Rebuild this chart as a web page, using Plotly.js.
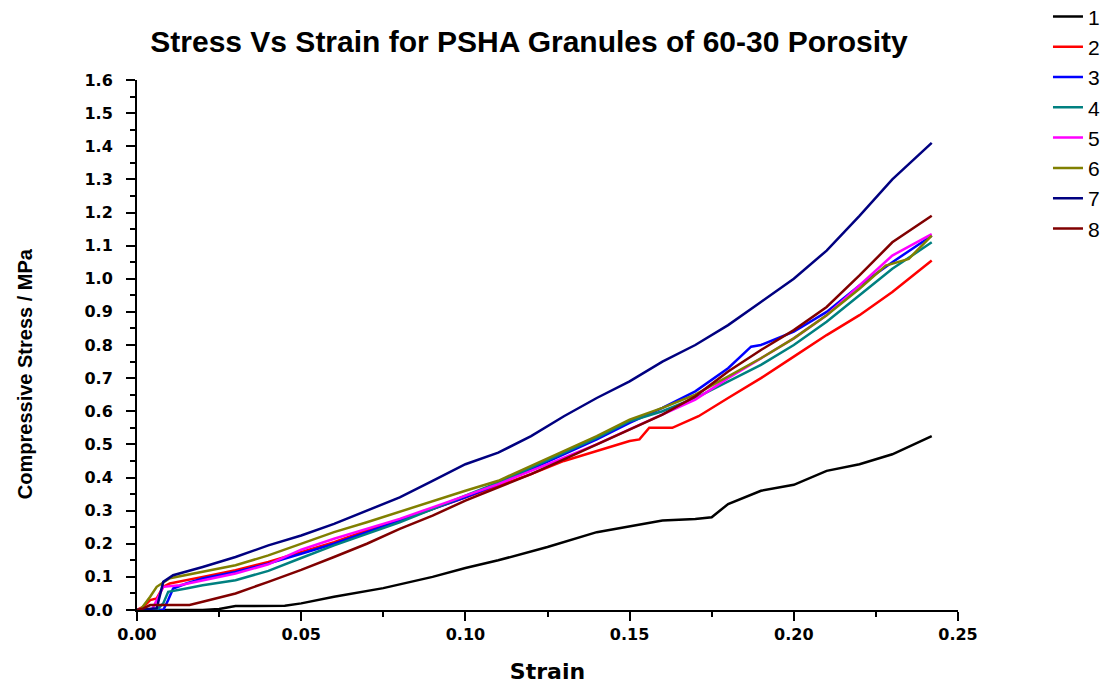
<!DOCTYPE html>
<html>
<head>
<meta charset="utf-8">
<script src="https://cdn.plot.ly/plotly-3.0.1.min.js"></script>
<style>html,body{margin:0;padding:0;background:#fff;}#chart{width:1118px;height:688px;}</style>
</head>
<body>
<div id="chart"></div>
<script>
// Series names
const seriesNames = ["1", "2", "3", "4", "5", "6", "7", "8"];
const seriesColors = ["#000000", "#FF0000", "#0000FF", "#008080", "#FF00FF", "#808000", "#000080", "#800000"];

// Strain / stress data
const s1x = [0, 0.02, 0.025, 0.03, 0.045, 0.05, 0.06, 0.075, 0.09, 0.10, 0.11, 0.125, 0.14, 0.15, 0.16, 0.17, 0.175, 0.18, 0.19, 0.20, 0.21, 0.22, 0.23, 0.242];
const s1y = [0, 0, 0.003, 0.012, 0.013, 0.02, 0.04, 0.066, 0.1, 0.127, 0.15, 0.19, 0.235, 0.252, 0.27, 0.275, 0.28, 0.32, 0.36, 0.378, 0.42, 0.44, 0.47, 0.525];

const s2x = [0, 0.002, 0.004, 0.006, 0.008, 0.01, 0.02, 0.03, 0.04, 0.05, 0.06, 0.07, 0.08, 0.09, 0.10, 0.11, 0.12, 0.13, 0.14, 0.15, 0.153, 0.156, 0.163, 0.171, 0.18, 0.19, 0.20, 0.21, 0.22, 0.23, 0.242];
const s2y = [0, 0.01, 0.03, 0.035, 0.07, 0.08, 0.1, 0.12, 0.145, 0.175, 0.205, 0.24, 0.27, 0.305, 0.34, 0.375, 0.41, 0.45, 0.48, 0.51, 0.515, 0.55, 0.55, 0.585, 0.64, 0.70, 0.765, 0.83, 0.89, 0.96, 1.055];

const s3x = [0, 0.008, 0.0095, 0.011, 0.015, 0.02, 0.03, 0.04, 0.05, 0.06, 0.07, 0.08, 0.09, 0.10, 0.11, 0.12, 0.13, 0.14, 0.15, 0.16, 0.17, 0.18, 0.187, 0.19, 0.20, 0.21, 0.22, 0.23, 0.242];
const s3y = [0, 0, 0.03, 0.065, 0.08, 0.095, 0.115, 0.14, 0.17, 0.2, 0.235, 0.27, 0.305, 0.34, 0.38, 0.425, 0.47, 0.515, 0.565, 0.61, 0.66, 0.73, 0.795, 0.80, 0.84, 0.9, 0.98, 1.05, 1.13];

const s4x = [0, 0.006, 0.008, 0.0095, 0.015, 0.02, 0.03, 0.04, 0.05, 0.06, 0.07, 0.08, 0.09, 0.10, 0.11, 0.12, 0.13, 0.14, 0.15, 0.16, 0.17, 0.18, 0.19, 0.20, 0.21, 0.22, 0.23, 0.242];
const s4y = [0, 0, 0.02, 0.055, 0.065, 0.075, 0.09, 0.118, 0.157, 0.195, 0.23, 0.265, 0.305, 0.345, 0.385, 0.43, 0.475, 0.52, 0.57, 0.60, 0.64, 0.69, 0.74, 0.80, 0.87, 0.95, 1.03, 1.11];

const s5x = [0, 0.0045, 0.007, 0.008, 0.013, 0.02, 0.03, 0.04, 0.05, 0.06, 0.07, 0.08, 0.09, 0.10, 0.11, 0.12, 0.13, 0.14, 0.15, 0.16, 0.17, 0.18, 0.19, 0.20, 0.21, 0.22, 0.23, 0.242];
const s5y = [0, 0, 0.05, 0.07, 0.075, 0.09, 0.11, 0.138, 0.182, 0.215, 0.245, 0.275, 0.31, 0.345, 0.38, 0.42, 0.46, 0.50, 0.545, 0.59, 0.635, 0.70, 0.76, 0.82, 0.89, 0.98, 1.07, 1.135];

const s6x = [0, 0.001, 0.004, 0.006, 0.01, 0.02, 0.03, 0.04, 0.05, 0.06, 0.07, 0.08, 0.09, 0.10, 0.11, 0.12, 0.13, 0.14, 0.15, 0.16, 0.17, 0.18, 0.19, 0.20, 0.21, 0.22, 0.228, 0.235, 0.242];
const s6y = [0, 0, 0.04, 0.07, 0.096, 0.115, 0.135, 0.165, 0.2, 0.235, 0.265, 0.297, 0.33, 0.36, 0.39, 0.435, 0.48, 0.525, 0.575, 0.61, 0.65, 0.705, 0.76, 0.82, 0.89, 0.97, 1.04, 1.06, 1.13];

const s7x = [0, 0.006, 0.008, 0.011, 0.02, 0.03, 0.04, 0.05, 0.06, 0.07, 0.08, 0.09, 0.10, 0.11, 0.12, 0.13, 0.14, 0.15, 0.16, 0.17, 0.18, 0.19, 0.20, 0.21, 0.22, 0.23, 0.242];
const s7y = [0, 0.005, 0.085, 0.105, 0.13, 0.16, 0.195, 0.225, 0.26, 0.30, 0.34, 0.39, 0.44, 0.475, 0.525, 0.585, 0.64, 0.69, 0.75, 0.80, 0.86, 0.93, 1.00, 1.085, 1.19, 1.30, 1.41];

const s8x = [0, 0.002, 0.004, 0.016, 0.02, 0.03, 0.04, 0.05, 0.06, 0.07, 0.08, 0.09, 0.10, 0.11, 0.12, 0.13, 0.14, 0.15, 0.16, 0.17, 0.18, 0.19, 0.20, 0.21, 0.22, 0.23, 0.242];
const s8y = [0, 0.005, 0.015, 0.015, 0.025, 0.05, 0.085, 0.121, 0.16, 0.2, 0.245, 0.285, 0.33, 0.37, 0.41, 0.455, 0.5, 0.545, 0.59, 0.645, 0.72, 0.785, 0.845, 0.915, 1.01, 1.11, 1.19];

const xs = [s1x, s2x, s3x, s4x, s5x, s6x, s7x, s8x];
const ys = [s1y, s2y, s3y, s4y, s5y, s6y, s7y, s8y];

const traces = seriesNames.map((n, i) => ({
  type: "scatter", mode: "lines", name: n,
  x: xs[i], y: ys[i],
  line: {color: seriesColors[i], width: 2.5}
}));

const SANS = "Liberation Sans, Arial, sans-serif";
const WIDE = "DejaVu Sans, Verdana, sans-serif";

const layout = {
  width: 1118, height: 688,
  margin: {l: 137, r: 160, t: 80, b: 78, autoexpand: false},
  paper_bgcolor: "#fff", plot_bgcolor: "#fff",
  font: {family: SANS, color: "#000"},
  title: {text: "<b>Stress Vs Strain for PSHA Granules of 60-30 Porosity</b>",
          font: {size: 30, family: SANS, color: "#000"},
          xref: "paper", x: 0.4775, xanchor: "center", y: 0.94, yanchor: "middle"},
  xaxis: {
    range: [0, 0.25], dtick: 0.05, tick0: 0, tickformat: ".2f",
    showgrid: false, zeroline: false,
    showline: true, linecolor: "#000", linewidth: 2,
    ticks: "outside", ticklen: 9, tickwidth: 2, tickcolor: "#000",
    minor: {dtick: 0.025, ticks: "outside", ticklen: 5, tickwidth: 2, tickcolor: "#000"},
    tickfont: {size: 16, family: WIDE, weight: "bold", color: "#000"},
    title: {text: "<b>Strain</b>", font: {size: 22, family: WIDE, color: "#000"}, standoff: 20}
  },
  yaxis: {
    range: [0, 1.6], dtick: 0.1, tick0: 0, tickformat: ".1f",
    showgrid: false, zeroline: false,
    showline: true, linecolor: "#000", linewidth: 2,
    ticks: "outside", ticklen: 9, tickwidth: 2, tickcolor: "#000",
    minor: {dtick: 0.05, ticks: "outside", ticklen: 5, tickwidth: 2, tickcolor: "#000"},
    tickfont: {size: 16, family: WIDE, weight: "bold", color: "#000"},
    ticklabelstandoff: 10
  },
  annotations: [{
    text: "<b>Compressive Stress / MPa</b>", textangle: -90,
    xref: "paper", yref: "paper", x: -0.1364, y: 0.445,
    xanchor: "center", yanchor: "middle", showarrow: false,
    font: {size: 20, family: SANS, color: "#000"}
  }],
  showlegend: true,
  legend: {
    x: 1.1096, xanchor: "left", y: 1.158, yanchor: "top",
    font: {size: 21, family: SANS, color: "#000"},
    bgcolor: "rgba(0,0,0,0)", borderwidth: 0,
    tracegroupgap: 0
  }
};

Plotly.newPlot("chart", traces, layout, {displayModeBar: false, staticPlot: true});
</script>
</body>
</html>
